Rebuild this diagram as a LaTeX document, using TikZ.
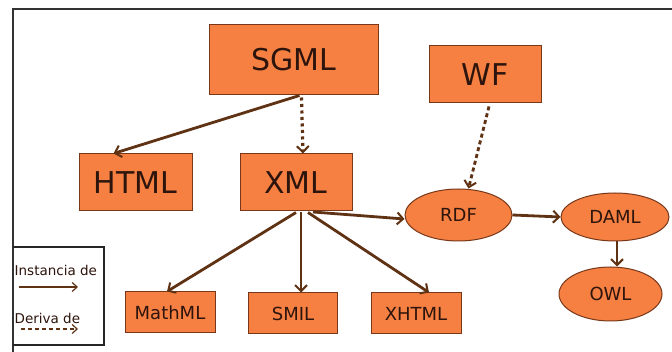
\documentclass[tikz,border=0pt]{standalone}
\usepackage{fontspec}
\setmainfont{DejaVu Sans}
\usetikzlibrary{arrows.meta,calc,shapes.geometric}
\definecolor{org}{RGB}{245,128,66}
\definecolor{brd}{RGB}{120,55,25}
\definecolor{arr}{RGB}{95,50,20}
\definecolor{txt}{RGB}{45,20,12}
\tikzset{
  rbox/.style={draw=brd,fill=org,line width=1pt,inner sep=0pt,text=txt,anchor=center},
  bigbox/.style={rbox,font=\fontsize{30}{32}\selectfont},
  smallbox/.style={rbox,font=\fontsize{18}{20}\selectfont},
  ell/.style={ellipse,draw=brd,fill=org,line width=1pt,inner sep=0pt,text=txt,font=\fontsize{18}{20}\selectfont},
  inst/.style={draw=arr,line width=2.8pt,-{Straight Barb[length=6pt,width=12pt,line width=2pt]}},
  deriv/.style={inst,dash pattern=on 4pt off 3pt},
  dotd/.style={inst,line width=3.2pt,dash pattern=on 3pt off 3.5pt},
  legtxt/.style={font=\fontsize{13.5}{14}\selectfont,text=txt,inner sep=0pt,anchor=west},
}
\begin{document}
\begin{tikzpicture}[x=1pt,y=-1pt]
\useasboundingbox (0,0) rectangle (672,352);
\fill[white] (0,0) rectangle (672,352);
% frame
\draw[line width=2pt,draw=black!80] (13,352) -- (13,9.5) -- (672,9.5);
% nodes
\node[bigbox,minimum width=169pt,minimum height=70pt] (sgml) at (293.5,60) {SGML};
\node[bigbox,minimum width=112pt,minimum height=57pt] (wf) at (485,74.5) {WF};
\node[bigbox,minimum width=113pt,minimum height=57pt] (html) at (135.5,182.5) {HTML};
\node[bigbox,minimum width=112pt,minimum height=57pt] (xml) at (296,182.5) {XML};
\node[ell,minimum width=107pt,minimum height=52pt] (rdf) at (458.5,215) {RDF};
\node[ell,minimum width=108pt,minimum height=48pt] (daml) at (615,217) {DAML};
\node[ell,minimum width=103pt,minimum height=54pt] (owl) at (610.5,294) {OWL};
\node[smallbox,minimum width=90pt,minimum height=41pt] (mathml) at (170,312.5) {MathML};
\node[smallbox,minimum width=89pt,minimum height=41pt] (smil) at (293,313.5) {SMIL};
\node[smallbox,minimum width=90pt,minimum height=41pt] (xhtml) at (416,313.5) {XHTML};
% connectors
\draw[inst] ($(sgml.south)+(6,0)$) -- ($(html.north)+(-22,0)$);
\draw[dotd] ($(sgml.south)+(8,2)$) -- ($(xml.north)+(7,0)$);
\draw[deriv] ($(wf.south)+(4,3)$) -- ($(rdf.north)+(10,0)$);
\draw[inst] ($(xml.south)+(17,0.5)$) -- ($(rdf.west)+(0,4)$);
\draw[inst] ($(xml.south)+(0,1)$) -- ($(mathml.north)+(-3,0)$);
\draw[inst] ($(xml.south)+(5,1)$) -- ($(smil.north)+(8,0)$);
\draw[inst] ($(xml.south)+(12,1)$) -- ($(xhtml.north)+(13,0)$);
\draw[inst] (rdf.east) -- (daml.west);
\draw[inst] ($(daml.south)+(2,0)$) -- ($(owl.north)+(6.5,0)$);
% legend
\draw[line width=2pt,draw=black!85] (13,247) -- (104,247) -- (104,345) -- (13,345);
\node[legtxt] (li) at (14.5,270) {Instancia de};
\node[legtxt] (ld) at (14.5,318) {Deriva de};
\coordinate (la1) at (19,287);
\coordinate (la2) at (78,287);
\coordinate (lb1) at (21,329);
\coordinate (lb2) at (78,329);
\draw[draw=arr,line width=1.4pt,-{Straight Barb[length=5pt,width=9pt,line width=1.2pt]}] (la1) -- (la2);
\draw[draw=arr,line width=1.4pt,dash pattern=on 4pt off 3pt,-{Straight Barb[length=5pt,width=9pt,line width=1.2pt]}] (lb1) -- (lb2);
\end{tikzpicture}
\end{document}
